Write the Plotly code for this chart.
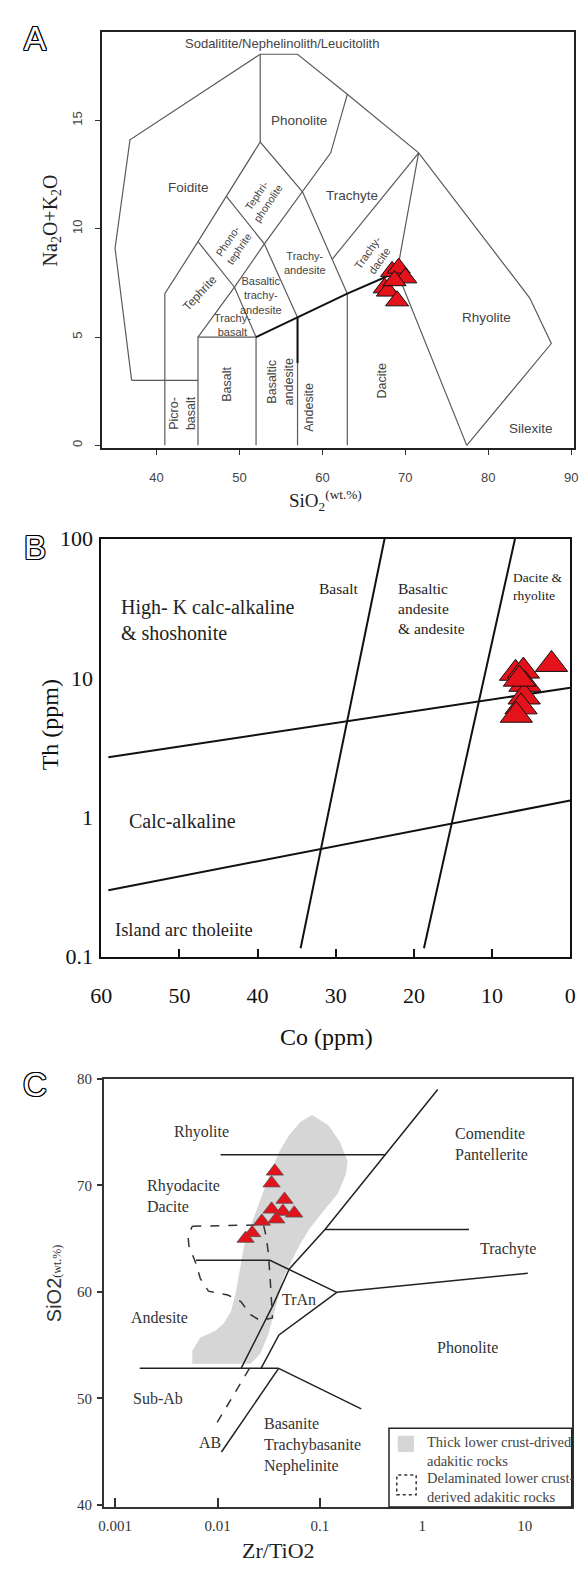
import numpy as np
import plotly.graph_objects as go

SANS = "Liberation Sans, Arial, sans-serif"
SERIF = "Liberation Serif, Times New Roman, serif"
RED = "#e3121b"

# ---------------- Panel A : TAS diagram ----------------
tas_outer_x = [37, 35, 36.8, 52.5, 57, 63, 71.6, 85.0, 87.6, 77.4]
tas_outer_y = [3, 9.1, 14.1, 18.05, 18.05, 16.2, 13.5, 6.8, 4.7, 0]
tas_left_x = [41, 41, 45, 48.4, 52.5, 57.6, 63]
tas_left_y = [0, 7, 9.4, 11.5, 14, 11.7, 7]
tas_phon_x = [52.5, 52.5]
tas_phon_y = [14, 18.05]
tas_mid_x = [45, 49.4, 53, 57.6, 61, 63]
tas_mid_y = [5, 7.3, 9.3, 11.7, 13.5, 16.2]
tas_pt_x = [48.4, 53, 57]
tas_pt_y = [11.5, 9.3, 5.9]
tas_tb_x = [45, 49.4, 52]
tas_tb_y = [9.4, 7.3, 5]
tas_picro_x = [37, 45]
tas_picro_y = [3, 3]
tas_basalt_x = [45, 45, 52, 52]
tas_basalt_y = [0, 5, 5, 0]
tas_and_x = [57, 57]
tas_and_y = [0, 5.9]
tas_dac_x = [63, 63]
tas_dac_y = [0, 7]
tas_td1_x = [71.6, 61.2]
tas_td1_y = [13.5, 8.6]
tas_rhy_x = [71.6, 69, 77.4]
tas_rhy_y = [13.5, 8, 0]
tas_thick_x = [52, 57, 63, 69]
tas_thick_y = [5, 5.9, 7, 8]
tas_thick2_x = [57, 57]
tas_thick2_y = [3.8, 5.9]

tas_sio2 = [68.4, 69.2, 70.0, 67.5, 67.9, 69.0, 68.7]
tas_alk = [8.03, 8.18, 7.73, 7.27, 7.12, 6.67, 7.6]

tas_labels = [
    ("Sodalitite/Nephelinolith/Leucitolith", 55.1, 18.56, 0, 13),
    ("Phonolite", 57.2, 15.0, 0, 13.5),
    ("Foidite", 43.8, 11.9, 0, 13.5),
    ("Trachyte", 63.55, 11.52, 0, 13.5),
    ("Tephri-<br>phonolite", 52.8, 11.36, -56, 10.5),
    ("Phono-<br>tephrite", 49.27, 9.24, -56, 10.5),
    ("Trachy-<br>andesite", 57.9, 8.4, 0, 11),
    ("Trachy-<br>dacite", 66.1, 8.7, -55, 11),
    ("Basaltic<br>trachy-<br>andesite", 52.6, 6.9, 0, 11),
    ("Trachy-<br>basalt", 49.1, 5.55, 0, 11),
    ("Tephrite", 45.2, 7.05, -47, 12),
    ("Basalt", 48.5, 2.8, -90, 12.5),
    ("Picro-<br>basalt", 43.1, 1.5, -90, 12.5),
    ("Basaltic<br>andesite", 55.0, 2.95, -90, 12.5),
    ("Andesite", 58.4, 1.74, -90, 12.5),
    ("Dacite", 67.2, 2.95, -90, 12.5),
    ("Rhyolite", 79.8, 5.9, 0, 13.5),
    ("Silexite", 85.2, 0.79, 0, 13.5),
]

# ---------------- Panel B : Th vs Co ----------------
b_upper_co = [59.1, 0]
b_upper_th = [2.7, 8.5]
b_lower_co = [59.1, 0]
b_lower_th = [0.30, 1.32]
b_steep1_co = [23.75, 34.5]
b_steep1_th = [100, 0.115]
b_steep2_co = [7.06, 18.72]
b_steep2_th = [100, 0.115]

co_ppm = [7.0, 6.0, 5.8, 5.9, 6.3, 6.9, 2.4, 6.5]
th_ppm = [10.8, 11.2, 9.0, 7.3, 6.2, 5.4, 12.5, 9.8]

b_labels = [
    ("High- K calc-alkaline<br>& shoshonite", 57.76, 26.2, 20, "left"),
    ("Basalt", 29.6, 43.7, 15.5, "center"),
    ("Basaltic<br>andesite<br>& andesite", 22.3, 31.6, 15.5, "left"),
    ("Dacite &<br>rhyolite", 7.59, 45.2, 13.5, "left"),
    ("Calc-alkaline", 56.76, 0.94, 20, "left"),
    ("Island arc tholeiite", 58.54, 0.155, 18.5, "left"),
]

# ---------------- Panel C : SiO2 vs Zr/TiO2 ----------------
c_rhy_x = [0.0107, 0.44]
c_rhy_y = [72.86, 72.86]
c_diag_x = [1.412, 0.112, 0.0502, 0.0349, 0.0170]
c_diag_y = [78.99, 65.85, 62.15, 58.77, 52.81]
c_trach_x = [0.112, 2.85]
c_trach_y = [65.85, 65.85]
c_rd_x = [0.00616, 0.0325, 0.146]
c_rd_y = [62.95, 62.95, 59.95]
c_ph_x = [0.146, 10.7]
c_ph_y = [59.95, 61.75]
c_tran_x = [0.146, 0.0398, 0.0266]
c_tran_y = [59.95, 55.94, 52.81]
c_sub_x = [0.00174, 0.0395]
c_sub_y = [52.81, 52.81]
c_bas_x = [0.0395, 0.2529]
c_bas_y = [52.81, 49.0]
c_ab_x = [0.0395, 0.01092]
c_ab_y = [52.81, 44.95]
c_abd_x = [0.0205, 0.00927]
c_abd_y = [52.81, 47.25]

thick_x = [0.0836, 0.1204, 0.1551, 0.1863, 0.1795, 0.1497, 0.104, 0.0778, 0.0625,
           0.0521, 0.0435, 0.0390, 0.0349, 0.0313, 0.0261, 0.021, 0.00567, 0.00567,
           0.0068, 0.00943, 0.0113, 0.01358, 0.01514, 0.01689, 0.01815, 0.021,
           0.0261, 0.0325, 0.0404, 0.0503, 0.0648]
thick_y = [76.59, 75.67, 74.13, 72.29, 71.06, 69.22, 67.37, 65.83, 64.30,
           62.76, 61.23, 59.38, 57.54, 56.01, 54.17, 53.24, 53.24, 54.47,
           55.70, 56.31, 56.93, 58.16, 60.0, 62.46, 64.30, 66.15,
           68.60, 71.06, 73.21, 74.75, 75.97]

delam_x = [0.00567, 0.0281, 0.0298, 0.0313, 0.0325, 0.0337, 0.0344, 0.0261, 0.0210,
           0.0169, 0.0126, 0.00815, 0.0068, 0.0061, 0.00526, 0.00515, 0.00567]
delam_y = [66.15, 66.29, 65.23, 63.69, 61.54, 59.38, 57.54, 57.30, 57.85,
           59.08, 59.70, 60.06, 61.23, 62.76, 64.30, 65.23, 66.15]

zr_tio2 = [0.0362, 0.0337, 0.0451, 0.0337, 0.0435, 0.0561, 0.0271, 0.0375, 0.0218, 0.0188]
sio2_c = [71.31, 70.20, 68.66, 67.74, 67.53, 67.37, 66.61, 66.82, 65.53, 65.0]

c_labels = [
    ("Rhyolite", 0.00705, 75.0, "center"),
    ("Rhyodacite<br>Dacite", 0.00197, 69.0, "left"),
    ("Andesite", 0.00269, 57.6, "center"),
    ("TrAn", 0.0625, 59.24, "center"),
    ("Comendite<br>Pantellerite", 2.006, 73.92, "left"),
    ("Trachyte", 6.87, 64.0, "center"),
    ("Phonolite", 2.75, 54.77, "center"),
    ("Sub-Ab", 0.00263, 50.02, "center"),
    ("AB", 0.00845, 45.87, "center"),
    ("Basanite<br>Trachybasanite<br>Nephelinite", 0.0273, 45.6, "left"),
]

fig = go.Figure()

# Panel A traces
a_lines = [
    (tas_outer_x, tas_outer_y), (tas_left_x, tas_left_y), (tas_phon_x, tas_phon_y),
    (tas_mid_x, tas_mid_y), (tas_pt_x, tas_pt_y), (tas_tb_x, tas_tb_y),
    (tas_picro_x, tas_picro_y), (tas_basalt_x, tas_basalt_y), (tas_and_x, tas_and_y),
    (tas_dac_x, tas_dac_y), (tas_td1_x, tas_td1_y), (tas_rhy_x, tas_rhy_y),
]
for lx, ly in a_lines:
    fig.add_trace(go.Scatter(x=lx, y=ly, mode="lines", line=dict(color="#5a5a5a", width=1.2),
                             xaxis="x", yaxis="y", hoverinfo="skip"))
for lx, ly in [(tas_thick_x, tas_thick_y), (tas_thick2_x, tas_thick2_y)]:
    fig.add_trace(go.Scatter(x=lx, y=ly, mode="lines", line=dict(color="#111", width=2),
                             xaxis="x", yaxis="y", hoverinfo="skip"))
fig.add_trace(go.Scatter(x=tas_sio2, y=tas_alk, mode="markers", xaxis="x", yaxis="y",
                         marker=dict(symbol="triangle-up", size=20, color=RED,
                                     line=dict(color="#111", width=1))))

# Panel B traces
for lx, ly in [(b_upper_co, b_upper_th), (b_lower_co, b_lower_th),
               (b_steep1_co, b_steep1_th), (b_steep2_co, b_steep2_th)]:
    fig.add_trace(go.Scatter(x=lx, y=ly, mode="lines", line=dict(color="#111", width=2),
                             xaxis="x2", yaxis="y2", hoverinfo="skip"))
fig.add_trace(go.Scatter(x=co_ppm, y=th_ppm, mode="markers", xaxis="x2", yaxis="y2",
                         marker=dict(symbol="triangle-up", size=28, color=RED,
                                     line=dict(color="#111", width=1))))

# Panel C traces
fig.add_trace(go.Scatter(x=thick_x, y=thick_y, mode="lines", fill="toself",
                         fillcolor="#d6d6d6", line=dict(width=0, color="#d6d6d6"),
                         xaxis="x3", yaxis="y3", hoverinfo="skip"))
fig.add_trace(go.Scatter(x=delam_x, y=delam_y, mode="lines",
                         line=dict(color="#333", width=1.5, dash="dash"),
                         xaxis="x3", yaxis="y3", hoverinfo="skip"))
for lx, ly in [(c_rhy_x, c_rhy_y), (c_diag_x, c_diag_y), (c_trach_x, c_trach_y),
               (c_rd_x, c_rd_y), (c_ph_x, c_ph_y), (c_tran_x, c_tran_y),
               (c_sub_x, c_sub_y), (c_bas_x, c_bas_y), (c_ab_x, c_ab_y)]:
    fig.add_trace(go.Scatter(x=lx, y=ly, mode="lines", line=dict(color="#222", width=1.5),
                             xaxis="x3", yaxis="y3", hoverinfo="skip"))
fig.add_trace(go.Scatter(x=c_abd_x, y=c_abd_y, mode="lines",
                         line=dict(color="#333", width=1.5, dash="dash"),
                         xaxis="x3", yaxis="y3", hoverinfo="skip"))
fig.add_trace(go.Scatter(x=zr_tio2, y=sio2_c, mode="markers", xaxis="x3", yaxis="y3",
                         marker=dict(symbol="triangle-up", size=15, color=RED,
                                     line=dict(color="#555", width=0.8))))

ann = []
for t, x, y, ang, sz in tas_labels:
    ann.append(dict(text=t, x=x, y=y, xref="x", yref="y", showarrow=False, textangle=ang,
                    xanchor="center", yanchor="middle",
                    font=dict(family=SANS, size=sz, color="#444"), align="center"))
for t, x, y, sz, al in b_labels:
    ann.append(dict(text=t, x=x, y=np.log10(y), xref="x2", yref="y2", showarrow=False,
                    xanchor=al, yanchor="middle", align=al,
                    font=dict(family=SERIF, size=sz, color="#222")))
for t, x, y, al in c_labels:
    ann.append(dict(text=t, x=np.log10(x), y=y, xref="x3", yref="y3", showarrow=False,
                    xanchor=al, yanchor="middle", align=al,
                    font=dict(family=SERIF, size=16, color="#333")))

def P(px, py):
    return px / 585.0, 1 - py / 1575.0

def paper_text(text, px, py, size, family=SERIF, angle=0, color="#222", xanchor="center", align="center"):
    x, y = P(px, py)
    ann.append(dict(text=text, x=x, y=y, xref="paper", yref="paper", showarrow=False,
                    textangle=angle, xanchor=xanchor, yanchor="middle", align=align,
                    font=dict(family=family, size=size, color=color)))

# axis titles
paper_text("SiO<sub>2</sub><sup>(wt.%)</sup>", 324, 496, 19)
paper_text("Na<sub>2</sub>O+K<sub>2</sub>O", 42, 212, 20, angle=-90)
paper_text("Co (ppm)", 325, 1042, 24, color="#111")
paper_text("Th (ppm)", 40, 724, 24, angle=-90, color="#111")
paper_text("Zr/TiO2", 276, 1563, 22, color="#222")
paper_text("SiO2<span style='font-size:12px;font-family:Liberation Serif'>(wt.%)</span>",
           45, 1292, 20, family=SANS, angle=-90, color="#333")

# panel letters (outlined)
outline = ("1px 0 0 #000, -1px 0 0 #000, 0 1px 0 #000, 0 -1px 0 #000, "
           "1px 1px 0 #000, -1px -1px 0 #000, 1px -1px 0 #000, -1px 1px 0 #000")
for letter, px, py in [("A", 25, 27), ("B", 25, 544), ("C", 25, 1090)]:
    x, y = P(px, py)
    ann.append(dict(text=letter, x=x, y=y, xref="paper", yref="paper", showarrow=False,
                    xanchor="center", yanchor="middle",
                    font=dict(family=SANS, size=33, color="white", shadow=outline)))

# legend of panel C
paper_text("Thick lower crust-drived<br>adakitic rocks", 426, 1462.5, 14.5, color="#444", xanchor="left", align="left")
paper_text("Delaminated lower crust-<br>derived adakitic rocks", 426, 1499, 14.5, color="#444", xanchor="left", align="left")

shapes = []
lx0, ly1 = P(389.3, 1519)
lx1, ly0 = P(577.5, 1439)
shapes.append(dict(type="rect", xref="paper", yref="paper", x0=lx0, x1=lx1, y0=ly1, y1=ly0,
                   line=dict(color="#222", width=1.5), fillcolor="white", layer="above"))
gx0, gy0 = P(398.3, 1463.3)
gx1, gy1 = P(415, 1446.7)
shapes.append(dict(type="rect", xref="paper", yref="paper", x0=gx0, x1=gx1, y0=gy0, y1=gy1,
                   line=dict(width=0), fillcolor="#d6d6d6", layer="above"))
dx0, dy0 = P(397.3, 1506.7)
dx1, dy1 = P(417.3, 1486.7)
shapes.append(dict(type="rect", xref="paper", yref="paper", x0=dx0, x1=dx1, y0=dy0, y1=dy1,
                   line=dict(width=1.5, dash="dot", color="#333"), layer="above"))

fig.update_layout(
    width=585, height=1575, margin=dict(l=0, r=0, t=0, b=0),
    paper_bgcolor="white", plot_bgcolor="white", showlegend=False,
    annotations=ann, shapes=shapes,
    xaxis=dict(domain=[93.5 / 585, 580 / 585], range=[33.4, 90.35], anchor="y",
               tickvals=[40, 50, 60, 70, 80, 90], ticks="outside", ticklen=5, tickcolor="#333",
               tickfont=dict(family=SANS, size=13, color="#444"), ticklabelstandoff=12,
               showline=True, mirror=True, linecolor="#222", linewidth=1.5,
               showgrid=False, zeroline=False),
    yaxis=dict(domain=[1 - 443 / 1575, 1 - 20.7 / 1575], range=[-0.12, 19.06], anchor="x",
               tickvals=[0, 5, 10, 15], tickangle=-90, ticks="outside", ticklen=5, tickcolor="#333",
               tickfont=dict(family=SANS, size=13, color="#444"), ticklabelstandoff=8,
               showline=True, mirror=True, linecolor="#222", linewidth=1.5,
               showgrid=False, zeroline=False),
    xaxis2=dict(domain=[93 / 585, 576 / 585], range=[60, 0], anchor="y2",
                tickvals=[60, 50, 40, 30, 20, 10, 0], ticks="inside", ticklen=8, tickwidth=1.5,
                tickcolor="#111", tickfont=dict(family=SERIF, size=22, color="#111"),
                ticklabelstandoff=18, showline=True, mirror=True, linecolor="#111", linewidth=2,
                showgrid=False, zeroline=False),
    yaxis2=dict(type="log", domain=[1 - 960 / 1575, 1 - 535 / 1575], range=[-1, 2], anchor="x2",
                tickvals=[0.1, 1, 10, 100], ticktext=["0.1", "1", "10", "100"], ticks="",
                tickfont=dict(family=SERIF, size=22, color="#111"), ticklabelstandoff=2,
                showline=True, mirror=True, linecolor="#111", linewidth=2,
                showgrid=False, zeroline=False),
    xaxis3=dict(type="log", domain=[95.6 / 585, 577.5 / 585], range=[-3.11, 1.458], anchor="y3",
                tickvals=[0.001, 0.01, 0.1, 1, 10], ticktext=["0.001", "0.01", "0.1", "1", "10"],
                ticks="inside", ticklen=9, tickwidth=1.5, tickcolor="#333",
                tickfont=dict(family=SERIF, size=15, color="#333"), ticklabelstandoff=4,
                showline=True, mirror=True, linecolor="#333", linewidth=1.5,
                showgrid=False, zeroline=False),
    yaxis3=dict(domain=[1 - 1519 / 1575, 1 - 1084 / 1575], range=[39.8, 80], anchor="x3",
                tickvals=[40, 50, 60, 70, 80], ticks="outside", ticklen=5, tickwidth=1.5,
                tickcolor="#333", tickfont=dict(family=SERIF, size=15, color="#333"),
                ticklabelstandoff=2, showline=True, mirror=True, linecolor="#333", linewidth=1.5,
                showgrid=False, zeroline=False),
)

fig.write_html("out.html")
